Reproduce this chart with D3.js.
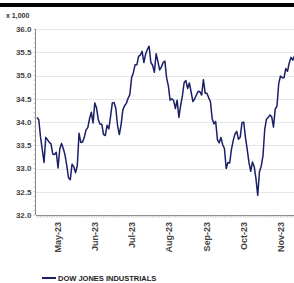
<!DOCTYPE html>
<html>
<head>
<meta charset="utf-8">
<script src="https://cdn.jsdelivr.net/npm/d3@7"></script>
<style>
  html, body { margin: 0; padding: 0; background: #fff; }
  svg { display: block; font-family: "Liberation Sans", Arial, sans-serif; }
</style>
</head>
<body>
<svg id="chart" width="294" height="283"></svg>
<script>
// trading days (2023, MM-DD) and Dow closes in thousands
const days = [
  "04-28",
  "05-01","05-02","05-03","05-04","05-05","05-08","05-09","05-10","05-11","05-12",
  "05-15","05-16","05-17","05-18","05-19","05-22","05-23","05-24","05-25","05-26","05-30","05-31",
  "06-01","06-02","06-05","06-06","06-07","06-08","06-09","06-12","06-13","06-14","06-15","06-16",
  "06-20","06-21","06-22","06-23","06-26","06-27","06-28","06-29","06-30",
  "07-03","07-05","07-06","07-07","07-10","07-11","07-12","07-13","07-14","07-17","07-18","07-19",
  "07-20","07-21","07-24","07-25","07-26","07-27","07-28","07-31",
  "08-01","08-02","08-03","08-04","08-07","08-08","08-09","08-10","08-11","08-14","08-15","08-16",
  "08-17","08-18","08-21","08-22","08-23","08-24","08-25","08-28","08-29","08-30","08-31",
  "09-01","09-05","09-06","09-07","09-08","09-11","09-12","09-13","09-14","09-15","09-18","09-19",
  "09-20","09-21","09-22","09-25","09-26","09-27","09-28","09-29",
  "10-02","10-03","10-04","10-05","10-06","10-09","10-10","10-11","10-12","10-13","10-16","10-17",
  "10-18","10-19","10-20","10-23","10-24","10-25","10-26","10-27","10-30","10-31",
  "11-01","11-02","11-03","11-06","11-07","11-08","11-09","11-10","11-13","11-14","11-15","11-16",
  "11-17","11-20","11-21","11-22","11-24","11-27","11-28"
];

const values = [
  34.10,
  34.05, 33.68, 33.41, 33.13, 33.67, 33.62, 33.56, 33.53, 33.31, 33.30,
  33.35, 33.01, 33.42, 33.54, 33.43, 33.29, 33.06, 32.80, 32.76, 33.09, 33.04, 32.91,
  33.06, 33.76, 33.56, 33.57, 33.67, 33.83, 33.88, 34.07, 34.21, 33.98, 34.41, 34.30,
  34.05, 33.95, 33.95, 33.73, 33.71, 33.93, 33.85, 34.12, 34.41,
  34.42, 34.29, 33.92, 33.73, 33.94, 34.26, 34.35, 34.40, 34.51, 34.59, 34.95, 35.06,
  35.23, 35.23, 35.41, 35.44, 35.52, 35.28, 35.46, 35.56,
  35.63, 35.28, 35.22, 35.07, 35.47, 35.31, 35.12, 35.18, 35.28, 35.31, 34.95, 34.77,
  34.47, 34.50, 34.46, 34.29, 34.47, 34.10, 34.35, 34.56, 34.85, 34.89, 34.72,
  34.84, 34.64, 34.44, 34.50, 34.58, 34.66, 34.65, 34.58, 34.91, 34.62, 34.62, 34.52,
  34.44, 34.07, 33.96, 34.01, 33.62, 33.55, 33.67, 33.51,
  33.43, 33.00, 33.13, 33.12, 33.41, 33.60, 33.74, 33.80, 33.63, 33.67, 33.98, 34.00,
  33.67, 33.41, 33.13, 32.94, 33.14, 33.04, 32.78, 32.42, 32.93, 33.05,
  33.27, 33.84, 34.06, 34.10, 34.15, 34.11, 33.89, 34.28, 34.34, 34.83, 34.99, 34.95,
  34.95, 35.15, 35.09, 35.27, 35.39, 35.33, 35.42
];

const yTicks = [32.0, 32.5, 33.0, 33.5, 34.0, 34.5, 35.0, 35.5, 36.0];
const monthTicks = ["05-16", "06-15", "07-18", "08-16", "09-18", "10-17", "11-15"];
const monthLabels = ["May-23", "Jun-23", "Jul-23", "Aug-23", "Sep-23", "Oct-23", "Nov-23"];
const seriesName = "DOW JONES INDUSTRIALS";
const unitLabel = "x 1,000";

const lineColor = "#1b1f66";
const svg = d3.select("#chart");

const x = d3.scaleLinear().domain([0, days.length - 1]).range([37, 294.5]);
const y = d3.scaleLinear().domain([32, 36]).range([215, 29]);

// black rule at the top
svg.append("rect").attr("x", 0).attr("y", 3).attr("width", 294).attr("height", 4).attr("fill", "#000");

// grid
svg.append("g")
  .selectAll("line")
  .data(yTicks.slice(1))
  .join("line")
  .attr("x1", 36).attr("x2", 294)
  .attr("y1", d => Math.round(y(d)) + 0.5).attr("y2", d => Math.round(y(d)) + 0.5)
  .attr("stroke", "#e6e6e6").attr("stroke-width", 1);

// y axis with minor ticks
const yAxis = svg.append("g").attr("transform", "translate(35.5,0)");
yAxis.append("line").attr("y1", 29).attr("y2", 215).attr("stroke", "#888");
yAxis.selectAll("line.minor")
  .data(d3.range(32, 36.001, 0.1))
  .join("line").attr("class", "minor")
  .attr("x1", -2).attr("x2", 0)
  .attr("y1", d => y(d)).attr("y2", d => y(d))
  .attr("stroke", "#999").attr("stroke-width", 0.6);
yAxis.selectAll("text")
  .data(yTicks)
  .join("text")
  .attr("x", -4).attr("y", d => y(d))
  .attr("dy", "0.35em")
  .attr("text-anchor", "end")
  .attr("font-size", 8).attr("font-weight", "bold").attr("fill", "#444")
  .text(d => d3.format(".1f")(d));

svg.append("text").attr("x", 6).attr("y", 18)
  .attr("font-size", 7).attr("font-weight", "bold").attr("fill", "#333")
  .text(unitLabel);

// x axis
const xAxis = svg.append("g").attr("transform", "translate(0,215.5)");
xAxis.append("line").attr("x1", 36).attr("x2", 294).attr("stroke", "#888");
xAxis.selectAll("line.minor")
  .data(days)
  .join("line").attr("class", "minor")
  .attr("x1", (d, i) => x(i)).attr("x2", (d, i) => x(i))
  .attr("y1", 0).attr("y2", 2)
  .attr("stroke", "#aaa").attr("stroke-width", 0.6);
xAxis.selectAll("text")
  .data(monthTicks)
  .join("text")
  .attr("transform", (d, i) => `translate(${x(days.indexOf(d))},6.5) rotate(-90)`)
  .attr("dy", "0.35em")
  .attr("text-anchor", "end")
  .attr("font-size", 9).attr("font-weight", "bold").attr("fill", "#444")
  .text((d, i) => monthLabels[i]);

// series
svg.append("path")
  .datum(values)
  .attr("fill", "none")
  .attr("stroke", lineColor)
  .attr("stroke-width", 1.5)
  .attr("stroke-linejoin", "round")
  .attr("d", d3.line().x((d, i) => x(i)).y(d => y(d)));

// legend
const legend = svg.append("g").attr("transform", "translate(42,278)");
legend.append("line").attr("x1", 0).attr("x2", 14).attr("stroke", lineColor).attr("stroke-width", 2);
legend.append("text").attr("x", 16).attr("dy", "0.35em")
  .attr("font-size", 7.5).attr("font-weight", "bold").attr("fill", "#222")
  .text(seriesName);
</script>
</body>
</html>
